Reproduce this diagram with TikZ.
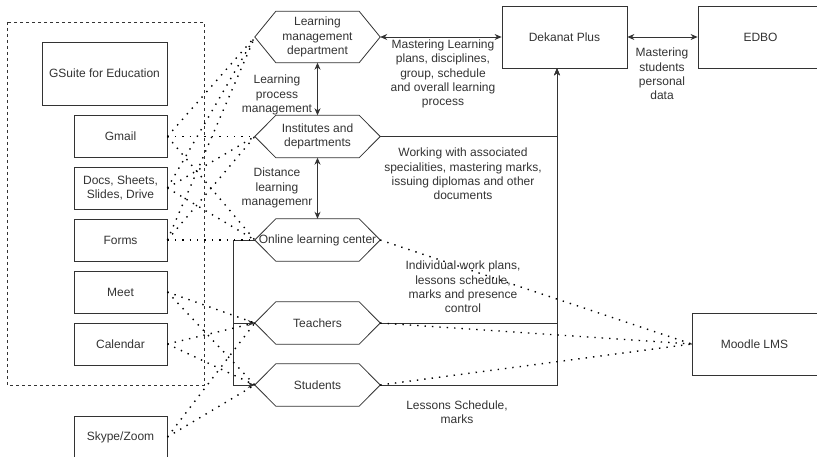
\documentclass[tikz,border=0pt]{standalone}
\usepackage{fontspec}
\setmainfont{Liberation Sans}
\usetikzlibrary{
    arrows.meta,
    positioning,
    calc
}
\tikzset{
    % Colors
    line color/.style={black!80,line width=0.8pt},
    text color/.style={text=black!80},
    %
    % Nodes
    sys box/.style={draw,line color,minimum width=125pt,minimum height=62pt,align=center},
    app box/.style={draw,line color,minimum width=93pt,minimum height=42pt,align=center},
    hex node/.style={minimum width=125pt,minimum height=42pt,inner sep=0pt,align=center},
    note/.style={align=center,inner sep=0pt},
    group frame/.style={black!80,line width=0.6pt,dash pattern=on 3pt off 3pt},
    %
    % Arrows
    arrow tip/.tip={Stealth[length=7pt,width=6pt]},
    arr/.style={line color,->,>={arrow tip}},
    darr/.style={line color,<->,>={arrow tip}},
    data link/.style={black,line width=1.4pt,dash pattern=on 1.4pt off 6pt}
}
\tikzstyle{every node}=[font=\fontsize{12}{14.4}\selectfont,text color]

\begin{document}
\begin{tikzpicture}[x=1pt,y=-1pt]
        \useasboundingbox (0,0) rectangle (817,457);
        \draw[group frame] (7,22) rectangle (204,385);
        % GSuite services
        \node[app box,minimum width=125pt,minimum height=63pt] (gsuite) at (104.5,73.5) {GSuite for Education};
        \node[app box] (gmail) at (120.5,136.5) {Gmail};
        \node[app box] (docs) at (120.5,188) {Docs, Sheets,\\Slides, Drive};
        \node[app box] (forms) at (120.5,240) {Forms};
        \node[app box] (meet) at (120.5,292) {Meet};
        \node[app box] (calendar) at (120.5,344) {Calendar};
        \node[app box] (skype) at (120.5,437) {Skype/Zoom};
        % university units
        \node[hex node,minimum height=51pt] (lmd) at (317.5,37) {Learning\\management\\department};
        \node[hex node] (inst) at (317.5,136.5) {Institutes and\\departments};
        \node[hex node] (olc) at (317.5,240) {Online learning center};
        \node[hex node] (teach) at (317.5,323) {Teachers};
        \node[hex node] (stud) at (317.5,385) {Students};
        \foreach \h in {lmd,inst,olc,teach,stud}{
            \draw[line color] (\h.west) -- ([xshift=21pt]\h.north west) -- ([xshift=-21pt]\h.north east)
                -- (\h.east) -- ([xshift=-21pt]\h.south east) -- ([xshift=21pt]\h.south west) -- cycle;
        }
        % systems
        \node[sys box] (dekanat) at (564.5,37) {Dekanat Plus};
        \node[sys box] (edbo) at (760.5,37) {EDBO};
        \node[sys box] (moodle) at (754.5,344) {Moodle LMS};
        % solid links
        \draw[darr] (lmd) -- (dekanat);
        \draw[darr] (dekanat) -- (edbo);
        \draw[darr] (lmd) -- (inst);
        \draw[darr] (inst) -- (olc);
        \coordinate (dek in) at ([xshift=-7.5pt]dekanat.south);
        \draw[arr] (inst.east) -| (dek in);
        \draw[arr] (teach.east) -| (dek in);
        \draw[arr] (stud.east) -| (dek in);
        \coordinate (olc bus) at ([xshift=-21pt]olc.west);
        \draw[arr] (olc.west) -- (olc bus) |- (teach.west);
        \draw[arr] (olc.west) -- (olc bus) |- (stud.west);
        % dotted links
        \foreach \s in {gmail,docs,forms}{
            \foreach \t in {lmd,inst,olc}{
                \draw[data link] (\s.east) -- (\t.west);
            }
        }
        \foreach \s in {meet,calendar,skype}{
            \foreach \t in {teach,stud}{
                \draw[data link] (\s.east) -- (\t.west);
            }
        }
        \foreach \s in {olc,teach,stud}{
            \draw[data link] (\s.east) -- (moodle.west);
        }
        % labels
        \node[note] (lbl plans) at (443,74) {Mastering Learning\\plans, disciplines,\\group, schedule\\and overall learning\\process};
        \node[note] (lbl edbo) at (662,74) {Mastering\\students\\personal\\data};
        \node[note] (lbl process) at (277,95) {Learning\\process\\management};
        \node[note] (lbl distance) at (277,188) {Distance\\learning\\managemenr};
        \node[note] (lbl inst) at (463,174) {Working with associated\\specialities, mastering marks,\\issuing diplomas and other\\documents};
        \node[note] (lbl olc) at (463,287) {Individual work plans,\\lessons schedule,\\marks and presence\\control};
        \node[note] (lbl stud) at (457,412) {Lessons Schedule,\\marks};
    \end{tikzpicture}
\end{document}
